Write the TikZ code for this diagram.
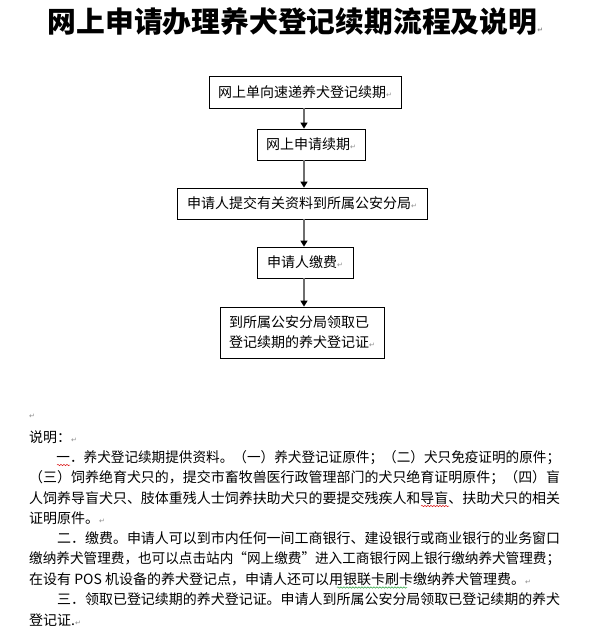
\documentclass[tikz,border=0pt]{standalone}
\usepackage{fontspec}
\setmainfont{Liberation Sans}
\newfontfamily\cjkfont{Noto Sans CJK SC}
\newfontfamily\markfont{DejaVu Sans}
\usepackage{xcolor}
\usepackage{graphicx}
\usetikzlibrary{arrows.meta, positioning, decorations.pathmorphing}
\newcommand{\pmark}{{\color{markGray}\markfont\fontsize{7pt}{7pt}\selectfont ↵}}
\newcommand{\jline}[1]{\resizebox{531pt}{\height}{#1}}

\begin{document}
\begin{tikzpicture}[
    x=1pt, y=-1pt,
    every node/.style={font=\cjkfont\fontsize{14pt}{14pt}\selectfont, inner sep=0pt},
    flowbox/.style={
      rectangle, draw=black, fill=white, line width=0.8pt
    },
    bodyline/.style={anchor=west},
    arr/.style={draw=arrowGray, line width=1.3pt,
      -{Triangle[width=7pt, length=6pt, color=black, fill=black]}},
    squiggle/.style={decorate, line width=0.5pt,
      decoration={snake, amplitude=0.7pt, segment length=3pt}}
  ]
    \definecolor{markGray}{RGB}{140,140,140}
    \definecolor{arrowGray}{RGB}{110,110,110}
    \definecolor{spellRed}{RGB}{220,30,30}
    \definecolor{grammarGreen}{RGB}{40,160,60}

    % page
    \fill[white] (0,0) rectangle (612,633);
    \useasboundingbox (0,0) rectangle (612,633);

    % title
    \node[font=\cjkfont\bfseries\fontsize{28.8pt}{28.8pt}\selectfont] (title) at (295.5,22)
      {网上申请办理养犬登记续期流程及说明\pmark};

    % flow chart
    \coordinate (axis) at (304,0);
    \node[flowbox, minimum width=192pt, minimum height=32pt] (s1) at (305,92)
      {网上单向速递养犬登记续期\pmark};
    \node[flowbox, minimum width=108pt, minimum height=31pt] (s2) at (311,144.5)
      {网上申请续期\pmark};
    \node[flowbox, minimum width=250pt, minimum height=31pt] (s3) at (302,203.5)
      {申请人提交有关资料到所属公安分局\pmark};
    \node[flowbox, minimum width=96pt, minimum height=31pt] (s4) at (305,262.5)
      {申请人缴费\pmark};
    \node[flowbox, minimum width=164pt, minimum height=51pt, align=left,
      font=\cjkfont\fontsize{14pt}{20pt}\selectfont] (s5) at (302,332.5)
      {到所属公安分局领取已\\登记续期的养犬登记证\pmark};

    \draw[arr] (s1.south -| axis) -- (s2.north -| axis);
    \draw[arr] (s2.south -| axis) -- (s3.north -| axis);
    \draw[arr] (s3.south -| axis) -- (s4.north -| axis);
    \draw[arr] (s4.south -| axis) -- (s5.north -| axis);

    % notes
    \node[bodyline] (gap) at (29,416) {\pmark};
    \node[bodyline] (note) at (29,437) {说明：\pmark};
    \node[bodyline] (l1) at (29,457.3)
      {\jline{\hspace*{28pt}一．养犬登记续期提供资料。（一）养犬登记证原件；（二）犬只免疫证明的原件；}};
    \node[bodyline] (l2) at (29,477.6)
      {\jline{（三）饲养绝育犬只的，提交市畜牧兽医行政管理部门的犬只绝育证明原件；（四）盲}};
    \node[bodyline] (l3) at (29,497.9)
      {\jline{人饲养导盲犬只、肢体重残人士饲养扶助犬只的要提交残疾人和导盲、扶助犬只的相关}};
    \node[bodyline] (l4) at (29,518.2) {证明原件。\pmark};
    \node[bodyline] (l5) at (29,538.5)
      {\jline{\hspace*{28pt}二．缴费。申请人可以到市内任何一间工商银行、建设银行或商业银行的业务窗口}};
    \node[bodyline] (l6) at (29,558.8)
      {\jline{缴纳养犬管理费，也可以点击站内“网上缴费”进入工商银行网上银行缴纳养犬管理费；}};
    \node[bodyline] (l7) at (29,579.1)
      {在设有 POS 机设备的养犬登记点，申请人还可以用银联卡刷卡缴纳养犬管理费。\pmark};
    \node[bodyline] (l8) at (29,599.4)
      {\jline{\hspace*{28pt}三．领取已登记续期的养犬登记证。申请人到所属公安分局领取已登记续期的养犬}};
    \node[bodyline] (l9) at (29,619.7) {登记证.\pmark};

    % proofing marks
    \draw[squiggle, draw=spellRed] (57,465) -- (70,465);
    \draw[squiggle, draw=spellRed] (421,506) -- (449,506);
    \draw[squiggle, draw=grammarGreen] (337,587.5) -- (407,587.5);
  \end{tikzpicture}
\end{document}
